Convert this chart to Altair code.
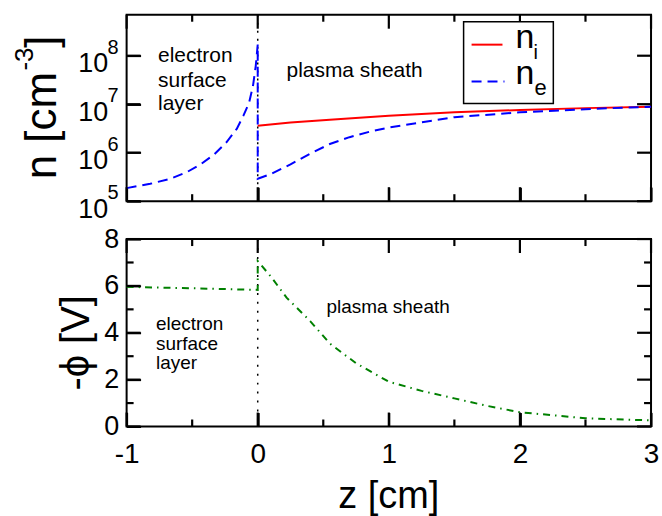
import math
import altair as alt
import pandas as pd

FONT = "Liberation Sans"

# ---------------- data ----------------
x_domain = [-1, 3]
x_major = [-1, 0, 1, 2, 3]
x_minor = [-0.5, 0.5, 1.5, 2.5]
z_boundary = [0.0]

n_domain = [1e5, 7e8]
n_ticks = [1e5, 1e6, 1e7, 1e8]
n_exponents = ["5", "6", "7", "8"]

# ion density n_i (sheath only)
z_i = [0.0, 0.25, 0.55, 1.0, 1.5, 2.0, 2.5, 3.0]
n_i = [3.6e6, 4.2e6, 4.8e6, 5.8e6, 6.8e6, 7.6e6, 8.3e6, 8.9e6]

# electron density n_e (surface layer, then sheath)
z_e = [-1.0, -0.82, -0.67, -0.54, -0.43, -0.33, -0.24, -0.16, -0.11, -0.066,
       -0.036, -0.015, 0.0, 0.0, 0.1, 0.25, 0.4, 0.55, 0.7, 0.85, 1.0, 1.5, 2.0, 2.5, 3.0]
n_e = [1.86e5, 2.28e5, 2.88e5, 3.98e5, 5.9e5, 9.3e5, 1.62e6, 3.09e6, 5.75e6, 1.07e7,
       2.4e7, 6.2e7, 1.7e8, 2.9e5, 3.63e5, 5.75e5, 9.55e5, 1.51e6, 2.09e6, 2.69e6, 3.31e6,
       5.4e6, 6.8e6, 7.9e6, 8.9e6]

# potential -phi
z_p = [-1.0, -0.5, 0.0, 0.0, 0.1, 0.22, 0.4, 0.55, 0.75, 1.0, 1.25, 1.5, 1.75, 2.0, 2.5, 3.0]
phi = [5.96, 5.9, 5.83, 7.06, 6.4, 5.5, 4.5, 3.54, 2.7, 1.91, 1.52, 1.2, 0.88, 0.61, 0.35, 0.26]
phi_domain = [0, 8]
phi_major = [0, 2, 4, 6, 8]
phi_minor = [1, 3, 5, 7]

# annotations
top_ann_text = ["electron", "surface", "layer", "plasma sheath"]
top_ann_z = [-0.76, -0.76, -0.76, 0.22]
top_ann_n = [7.54e7, 2.31e7, 7.43e6, 3.7e7]
bot_ann_text = ["electron", "surface", "layer", "plasma sheath"]
bot_ann_z = [-0.776, -0.776, -0.776, 0.525]
bot_ann_phi = [4.13, 3.28, 2.47, 4.85]

# ---------------- layout ----------------
W = 526
H1 = 187
H2 = 188
MAJ = 14
MIN = 7

# ---------------- frames ----------------
df_i = pd.DataFrame({"z": z_i, "n": n_i})
df_e = pd.DataFrame({"z": z_e, "n": n_e, "i": list(range(len(z_e)))})
df_p = pd.DataFrame({"z": z_p, "phi": phi, "i": list(range(len(z_p)))})
df_zb = pd.DataFrame({"z": z_boundary})
df_nt = pd.DataFrame({"n": n_ticks, "e": n_exponents})
df_ta = pd.DataFrame({"z": top_ann_z, "n": top_ann_n, "t": top_ann_text})
df_ba = pd.DataFrame({"z": bot_ann_z, "phi": bot_ann_phi, "t": bot_ann_text})
one = pd.DataFrame({"a": [0]})

# tick segments (inward), expressed in data units so they go through the scales
z_per_px = (x_domain[1] - x_domain[0]) / W
dec_per_px = math.log10(n_domain[1] / n_domain[0]) / H1
phi_per_px = (phi_domain[1] - phi_domain[0]) / H2


def top_ticks():
    rows = []
    k = 0
    for vals, L in ((x_major, MAJ), (x_minor, MIN)):
        f = 10 ** (L * dec_per_px)
        for z in vals:
            rows += [(z, n_domain[0], k), (z, n_domain[0] * f, k)]; k += 1
            rows += [(z, n_domain[1], k), (z, n_domain[1] / f, k)]; k += 1
    for n in n_ticks:
        dz = MAJ * z_per_px
        rows += [(x_domain[0], n, k), (x_domain[0] + dz, n, k)]; k += 1
        rows += [(x_domain[1], n, k), (x_domain[1] - dz, n, k)]; k += 1
    return pd.DataFrame(rows, columns=["z", "n", "k"])


def bottom_ticks():
    rows = []
    k = 0
    for vals, L in ((x_major, MAJ), (x_minor, MIN)):
        d = L * phi_per_px
        for z in vals:
            rows += [(z, phi_domain[0], k), (z, phi_domain[0] + d, k)]; k += 1
            rows += [(z, phi_domain[1], k), (z, phi_domain[1] - d, k)]; k += 1
    for vals, L in ((phi_major, MAJ), (phi_minor, MIN)):
        dz = L * z_per_px
        for p in vals:
            rows += [(x_domain[0], p, k), (x_domain[0] + dz, p, k)]; k += 1
            rows += [(x_domain[1], p, k), (x_domain[1] - dz, p, k)]; k += 1
    return pd.DataFrame(rows, columns=["z", "phi", "k"])


INWARD = {"expr": "-14"}
X_top = alt.X("z:Q", scale=alt.Scale(domain=x_domain, nice=False, zero=False),
              axis=alt.Axis(values=x_major, labels=False, ticks=True, tickSize=INWARD, tickWidth=2,
                            tickColor="black", domain=False, grid=False, title=None))
X_bot = alt.X("z:Q", scale=alt.Scale(domain=x_domain, nice=False, zero=False),
              axis=alt.Axis(values=x_major, labelExpr="datum.value + ''", ticks=True, tickSize=INWARD,
                            tickWidth=2, tickColor="black",
                            domain=False, grid=False, labelFontSize=28, labelFont=FONT,
                            labelPadding=28, labelFlush=False, labelOverlap=False,
                            labelColor="black", title=None))
Y_top = alt.Y("n:Q", scale=alt.Scale(type="log", domain=n_domain, nice=False),
              axis=alt.Axis(values=n_ticks, labelExpr="'10'", ticks=True, tickSize=INWARD,
                            tickWidth=2, tickColor="black",
                            domain=False, grid=False, labelFontSize=27, labelFont=FONT,
                            labelPadding=33, labelOffset=8, labelColor="black", title=None))
Y_bot = alt.Y("phi:Q", scale=alt.Scale(domain=phi_domain, nice=False, zero=False),
              axis=alt.Axis(values=phi_major, labelExpr="datum.value + ''", ticks=True, tickSize=INWARD,
                            tickWidth=2, tickColor="black",
                            domain=False, grid=False, labelFontSize=27, labelFont=FONT,
                            labelPadding=22, labelColor="black", title=None))


def label(text, x, y, size, angle=0, align="left"):
    kw = dict(text=text, align=align, baseline="alphabetic", fontSize=size, font=FONT, color="black")
    if angle:
        kw["angle"] = angle
    return alt.Chart(one).mark_text(**kw).encode(x=alt.value(x), y=alt.value(y))


def spacer(x, y):
    return alt.Chart(one).mark_text(text=" ", fontSize=1, opacity=0).encode(x=alt.value(x), y=alt.value(y))


# ---------------- top panel ----------------
t_vline = alt.Chart(df_zb).mark_rule(color="black", strokeDash=[2, 6], strokeWidth=1.5).encode(
    x=X_top, y=alt.value(0), y2=alt.value(H1))
t_ni = alt.Chart(df_i).mark_line(color="#ff0000", strokeWidth=2).encode(x=X_top, y=Y_top)
t_ne = alt.Chart(df_e).mark_line(color="#0000ff", strokeWidth=2, strokeDash=[10, 6]).encode(
    x=X_top, y=Y_top, order="i:Q")
t_ticks = alt.Chart(top_ticks()).mark_line(color="#000000", strokeWidth=2.2, opacity=1).encode(
    x=X_top, y=Y_top, detail="k:N")
t_exp = alt.Chart(df_nt).mark_text(align="right", baseline="middle", fontSize=20, font=FONT,
                                   dy=-8, color="black").encode(y=Y_top, x=alt.value(-8), text="e:N")
t_ann = alt.Chart(df_ta).mark_text(align="left", baseline="alphabetic", fontSize=21, font=FONT,
                                   color="black").encode(x=X_top, y=Y_top, text="t:N")
leg_box = alt.Chart(one).mark_rect(fill="white", stroke="black", strokeWidth=1.5).encode(
    x=alt.value(338), x2=alt.value(428), y=alt.value(7), y2=alt.value(89))
leg_ni = alt.Chart(one).mark_rule(color="#ff0000", strokeWidth=2).encode(
    x=alt.value(346), x2=alt.value(377), y=alt.value(30))
leg_ne = alt.Chart(one).mark_rule(color="#0000ff", strokeWidth=2, strokeDash=[10, 6]).encode(
    x=alt.value(346), x2=alt.value(379), y=alt.value(67))

top = alt.layer(
    t_vline, t_ni, t_ne, t_ticks, t_exp, t_ann, leg_box, leg_ni, leg_ne,
    label("n", 390, 33, 34), label("i", 408, 44, 20),
    label("n", 390, 69, 34), label("e", 409, 81, 22),
    label("n [cm", -71, 165, 44, 270), label("-3", -94, 56, 26, 270),
    label("]", -71, 33, 44, 270),
    spacer(-126, -12), spacer(536, -12),
).properties(width=W, height=H1)

# ---------------- bottom panel ----------------
b_vline = alt.Chart(df_zb).mark_rule(color="black", strokeDash=[2, 7], strokeWidth=1.5).encode(
    x=X_bot, y=alt.value(0), y2=alt.value(H2))
b_phi = alt.Chart(df_p).mark_line(color="#008000", strokeWidth=2, strokeDash=[7, 5, 1.5, 5]).encode(
    x=X_bot, y=Y_bot, order="i:Q")
b_ticks = alt.Chart(bottom_ticks()).mark_line(color="#000000", strokeWidth=2.2, opacity=1).encode(
    x=X_bot, y=Y_bot, detail="k:N")
b_ann = alt.Chart(df_ba).mark_text(align="left", baseline="alphabetic", fontSize=19, font=FONT,
                                   color="black").encode(x=X_bot, y=Y_bot, text="t:N")

bottom = alt.layer(
    b_vline, b_phi, b_ticks, b_ann,
    label("-ϕ [V]", -38, 152, 40, 270),
    label("z [cm]", W / 2, 270, 38, 0, "center"),
    spacer(-126, 279), spacer(536, 279),
).properties(width=W, height=H2)

chart = alt.vconcat(top, bottom, spacing=38, bounds="flush").resolve_scale(
    x="independent", y="independent").properties(padding=0, background="white").configure_view(
    stroke="black", strokeWidth=2)

chart.save("out.html", embed_options={"renderer": "svg", "actions": False})
